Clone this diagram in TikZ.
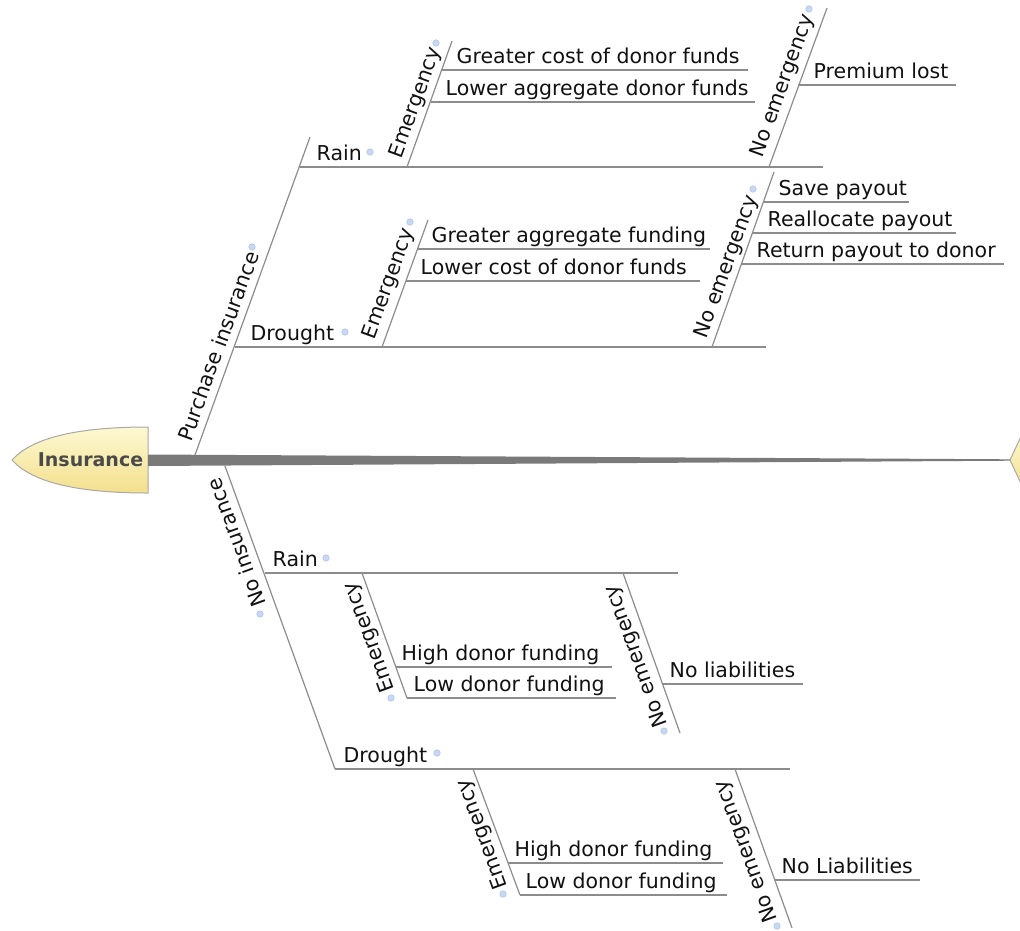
\documentclass[tikz,border=0pt]{standalone}
\usepackage{fontspec}
\setmainfont{DejaVu Sans}
\usetikzlibrary{calc}
\definecolor{linegray}{HTML}{8C8C8C}
\definecolor{spinegray}{HTML}{7A7A7A}
\definecolor{txt}{HTML}{111111}
\definecolor{headtxt}{HTML}{4A4A4A}
\definecolor{headtop}{HTML}{FDF8D2}
\definecolor{headbot}{HTML}{F3E08C}
\definecolor{headborder}{HTML}{A8A8A8}
\definecolor{dotfill}{HTML}{C9D8F2}
\definecolor{dotborder}{HTML}{A9C0E6}
\begin{document}
\begin{tikzpicture}[x=1pt,y=-1pt,
  branch/.style={draw=linegray, line width=1.2pt},
  lbl/.style={font=\fontsize{20.5}{24}\selectfont, text=txt, inner sep=0pt, anchor=base west},
  rlbl/.style={font=\fontsize{20.5}{24}\selectfont, text=txt, inner sep=0pt, anchor=center},
  upl/.style={rlbl, rotate=70},
  dnl/.style={rlbl, rotate=110},
  collapse/.style={circle, fill=dotfill, draw=dotborder, line width=0.5pt, minimum size=6.5pt, inner sep=0pt}]
\useasboundingbox (0,0) rectangle (1020,930);
\clip (0,0) rectangle (1020,930);

% ---- head and tail ----
\path[top color=headtop, bottom color=headbot, draw=headborder, line width=1pt]
  (148,427) .. controls (70,427) and (30,440) .. (12,460)
  .. controls (30,480) and (70,493) .. (148,493) -- cycle;
\node[font=\fontsize{19}{22}\selectfont\bfseries, text=headtxt, inner sep=0pt] (head) at (90.5,459.5) {Insurance};
\path[top color=headtop, bottom color=headbot, draw=headborder, line width=1pt]
  (1010,460) -- (1024,430) -- (1045,430) -- (1045,490) -- (1024,490) -- cycle;
\fill[spinegray] (148,454.5) -- (1010,459.3) -- (1010,460.7) -- (148,466) -- cycle;

% ---- Purchase insurance (upper) ----
\coordinate (pi0) at (195,455);
\coordinate (pi1) at (310,137);
\draw[branch] (pi0) -- (pi1);
\node[upl] (pilbl) at (218,346) {Purchase insurance};
\node[collapse] (pidot) at (252,247) {};

% Upper Rain
\coordinate (ur0) at (300,167);
\coordinate (ur1) at (823,167);
\draw[branch] (ur0) -- (ur1);
\node[lbl] (urlbl) at (316.5,160) {Rain};
\node[collapse] (urdot) at (370,152) {};
%   Emergency
\coordinate (ure0) at (407,167);
\coordinate (ure1) at (452,41);
\draw[branch] (ure0) -- (ure1);
\node[upl] (urelbl) at (416,103) {Emergency};
\node[collapse] (uredot) at (436,43) {};
\coordinate (ure_a0) at (442,70);  \coordinate (ure_a1) at (748,70);
\coordinate (ure_b0) at (431,102); \coordinate (ure_b1) at (755,102);
\draw[branch] (ure_a0) -- (ure_a1);
\draw[branch] (ure_b0) -- (ure_b1);
\node[lbl] (ure_at) at (456.5,63) {Greater cost of donor funds};
\node[lbl] (ure_bt) at (445.5,95) {Lower aggregate donor funds};
%   No emergency
\coordinate (urn0) at (769,167);
\coordinate (urn1) at (827,8);
\draw[branch] (urn0) -- (urn1);
\node[upl] (urnlbl) at (783,86) {No emergency};
\node[collapse] (urndot) at (809,9) {};
\coordinate (urn_a0) at (798,85); \coordinate (urn_a1) at (956,85);
\draw[branch] (urn_a0) -- (urn_a1);
\node[lbl] (urn_at) at (813.5,78) {Premium lost};

% Upper Drought
\coordinate (ud0) at (235,347);
\coordinate (ud1) at (766,347);
\draw[branch] (ud0) -- (ud1);
\node[lbl] (udlbl) at (250.5,340) {Drought};
\node[collapse] (uddot) at (345,332) {};
%   Emergency
\coordinate (ude0) at (382,347);
\coordinate (ude1) at (428,220);
\draw[branch] (ude0) -- (ude1);
\node[upl] (udelbl) at (389,284) {Emergency};
\node[collapse] (udedot) at (410,222) {};
\coordinate (ude_a0) at (417,249); \coordinate (ude_a1) at (710,249);
\coordinate (ude_b0) at (406,281); \coordinate (ude_b1) at (700,281);
\draw[branch] (ude_a0) -- (ude_a1);
\draw[branch] (ude_b0) -- (ude_b1);
\node[lbl] (ude_at) at (431.5,242) {Greater aggregate funding};
\node[lbl] (ude_bt) at (420.5,274) {Lower cost of donor funds};
%   No emergency
\coordinate (udn0) at (712,347);
\coordinate (udn1) at (774,172);
\draw[branch] (udn0) -- (udn1);
\node[upl] (udnlbl) at (727,267) {No emergency};
\node[collapse] (udndot) at (753,189) {};
\coordinate (udn_a0) at (764,202);   \coordinate (udn_a1) at (909,202);
\coordinate (udn_b0) at (753,233);   \coordinate (udn_b1) at (956,233);
\coordinate (udn_c0) at (742,264);   \coordinate (udn_c1) at (1004,264);
\draw[branch] (udn_a0) -- (udn_a1);
\draw[branch] (udn_b0) -- (udn_b1);
\draw[branch] (udn_c0) -- (udn_c1);
\node[lbl] (udn_at) at (778.5,195) {Save payout};
\node[lbl] (udn_bt) at (767.5,226) {Reallocate payout};
\node[lbl] (udn_ct) at (756.5,257) {Return payout to donor};

% ---- No insurance (lower) ----
\coordinate (ni0) at (225,466);
\coordinate (ni1) at (335,769);
\draw[branch] (ni0) -- (ni1);
\node[dnl] (nilbl) at (236,543) {No insurance};
\node[collapse] (nidot) at (260,614) {};

% Lower Rain
\coordinate (lr0) at (265,573);
\coordinate (lr1) at (678,573);
\draw[branch] (lr0) -- (lr1);
\node[lbl] (lrlbl) at (272.5,566) {Rain};
\node[collapse] (lrdot) at (326,558) {};
%   Emergency
\coordinate (lre0) at (362,573);
\coordinate (lre1) at (407,698);
\draw[branch] (lre0) -- (lre1);
\node[dnl] (lrelbl) at (370,637) {Emergency};
\node[collapse] (lredot) at (391,698) {};
\coordinate (lre_a0) at (396,667); \coordinate (lre_a1) at (612,667);
\coordinate (lre_b0) at (407,698); \coordinate (lre_b1) at (616,698);
\draw[branch] (lre_a0) -- (lre_a1);
\draw[branch] (lre_b0) -- (lre_b1);
\node[lbl] (lre_at) at (401.5,660) {High donor funding};
\node[lbl] (lre_bt) at (413.5,691) {Low donor funding};
%   No emergency
\coordinate (lrn0) at (623,573);
\coordinate (lrn1) at (680,733);
\draw[branch] (lrn0) -- (lrn1);
\node[dnl] (lrnlbl) at (637,656) {No emergency};
\node[collapse] (lrndot) at (664,731) {};
\coordinate (lrn_a0) at (663,684); \coordinate (lrn_a1) at (803,684);
\draw[branch] (lrn_a0) -- (lrn_a1);
\node[lbl] (lrn_at) at (669.5,677) {No liabilities};

% Lower Drought
\coordinate (ld0) at (335,769);
\coordinate (ld1) at (790,769);
\draw[branch] (ld0) -- (ld1);
\node[lbl] (ldlbl) at (343.5,762) {Drought};
\node[collapse] (lddot) at (437,753) {};
%   Emergency
\coordinate (lde0) at (473,769);
\coordinate (lde1) at (520,895);
\draw[branch] (lde0) -- (lde1);
\node[dnl] (ldelbl) at (483,834) {Emergency};
\node[collapse] (ldedot) at (503,894) {};
\coordinate (lde_a0) at (508,863); \coordinate (lde_a1) at (723,863);
\coordinate (lde_b0) at (520,895); \coordinate (lde_b1) at (727,895);
\draw[branch] (lde_a0) -- (lde_a1);
\draw[branch] (lde_b0) -- (lde_b1);
\node[lbl] (lde_at) at (514.5,856) {High donor funding};
\node[lbl] (lde_bt) at (525.5,888) {Low donor funding};
%   No emergency
\coordinate (ldn0) at (735,769);
\coordinate (ldn1) at (792,928);
\draw[branch] (ldn0) -- (ldn1);
\node[dnl] (ldnlbl) at (747,851) {No emergency};
\node[collapse] (ldndot) at (777,926) {};
\coordinate (ldn_a0) at (775,880); \coordinate (ldn_a1) at (920,880);
\draw[branch] (ldn_a0) -- (ldn_a1);
\node[lbl] (ldn_at) at (781.5,873) {No Liabilities};
\end{tikzpicture}
\end{document}
